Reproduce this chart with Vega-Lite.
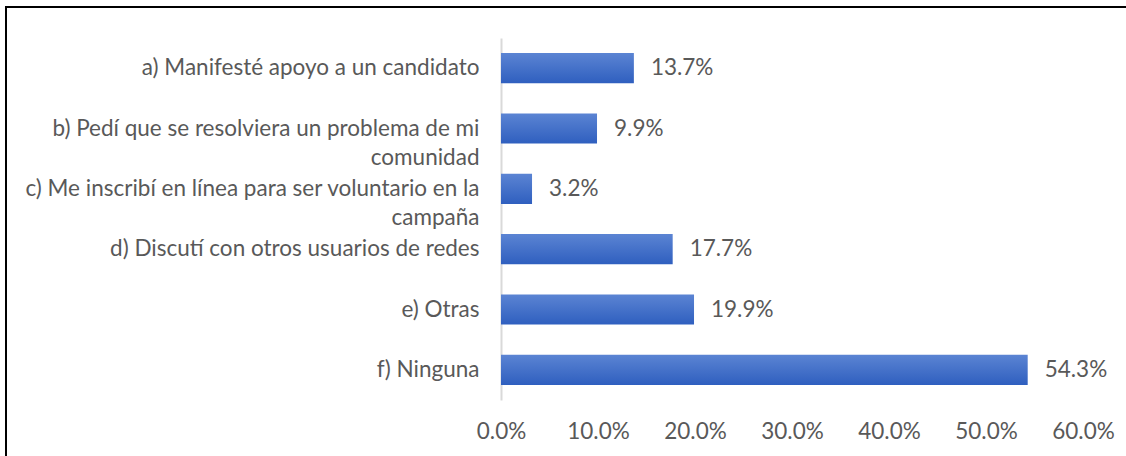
{
  "$schema": "https://vega.github.io/schema/vega-lite/v6.json",
  "width": 1125,
  "height": 455,
  "padding": {"left": 6, "top": 7, "right": 0, "bottom": 0},
  "autosize": {"type": "none"},
  "background": "white",
  "config": {
    "view": {"stroke": "#000000", "strokeWidth": 2},
    "font": "Lato"
  },
  "data": {
    "values": [
      {"opcion": "a) Manifesté apoyo a un candidato", "valor": 0.137},
      {"opcion": "b) Pedí que se resolviera un problema de mi|comunidad", "valor": 0.099},
      {"opcion": "c) Me inscribí en línea para ser voluntario en la|campaña", "valor": 0.032},
      {"opcion": "d) Discutí con otros usuarios de redes", "valor": 0.177},
      {"opcion": "e) Otras", "valor": 0.199},
      {"opcion": "f) Ninguna", "valor": 0.543}
    ]
  },
  "encoding": {
    "y": {
      "field": "opcion",
      "type": "nominal",
      "sort": null,
      "scale": {"range": [31, 393], "paddingInner": 0.5, "paddingOuter": 0.25},
      "axis": {
        "title": null,
        "offset": -495,
        "domainColor": "#D9D9D9",
        "domainWidth": 2,
        "ticks": false,
        "labelPadding": 22,
        "labelFontSize": 22.5,
        "labelColor": "#595959",
        "labelLimit": 700,
        "labelLineHeight": 29,
        "labelExpr": "split(datum.label, '|')"
      }
    },
    "x": {
      "field": "valor",
      "type": "quantitative",
      "scale": {"domain": [-0.5103, 0.6495], "nice": false, "zero": false},
      "axis": {
        "title": null,
        "values": [0, 0.1, 0.2, 0.3, 0.4, 0.5, 0.6],
        "format": ".1%",
        "domain": false,
        "ticks": false,
        "grid": false,
        "offset": -42,
        "labelPadding": 0,
        "labelFontSize": 22.5,
        "labelColor": "#595959"
      }
    }
  },
  "layer": [
    {
      "mark": {
        "type": "bar",
        "color": {
          "gradient": "linear",
          "x1": 0, "y1": 0, "x2": 0, "y2": 1,
          "stops": [
            {"offset": 0, "color": "#5B84D3"},
            {"offset": 1, "color": "#2F5FBF"}
          ]
        }
      },
      "encoding": {"x2": {"datum": 0}}
    },
    {
      "mark": {"type": "text", "align": "left", "baseline": "middle", "dx": 17, "fontSize": 22.5, "color": "#595959"},
      "encoding": {"text": {"field": "valor", "type": "quantitative", "format": ".1%"}}
    }
  ]
}
